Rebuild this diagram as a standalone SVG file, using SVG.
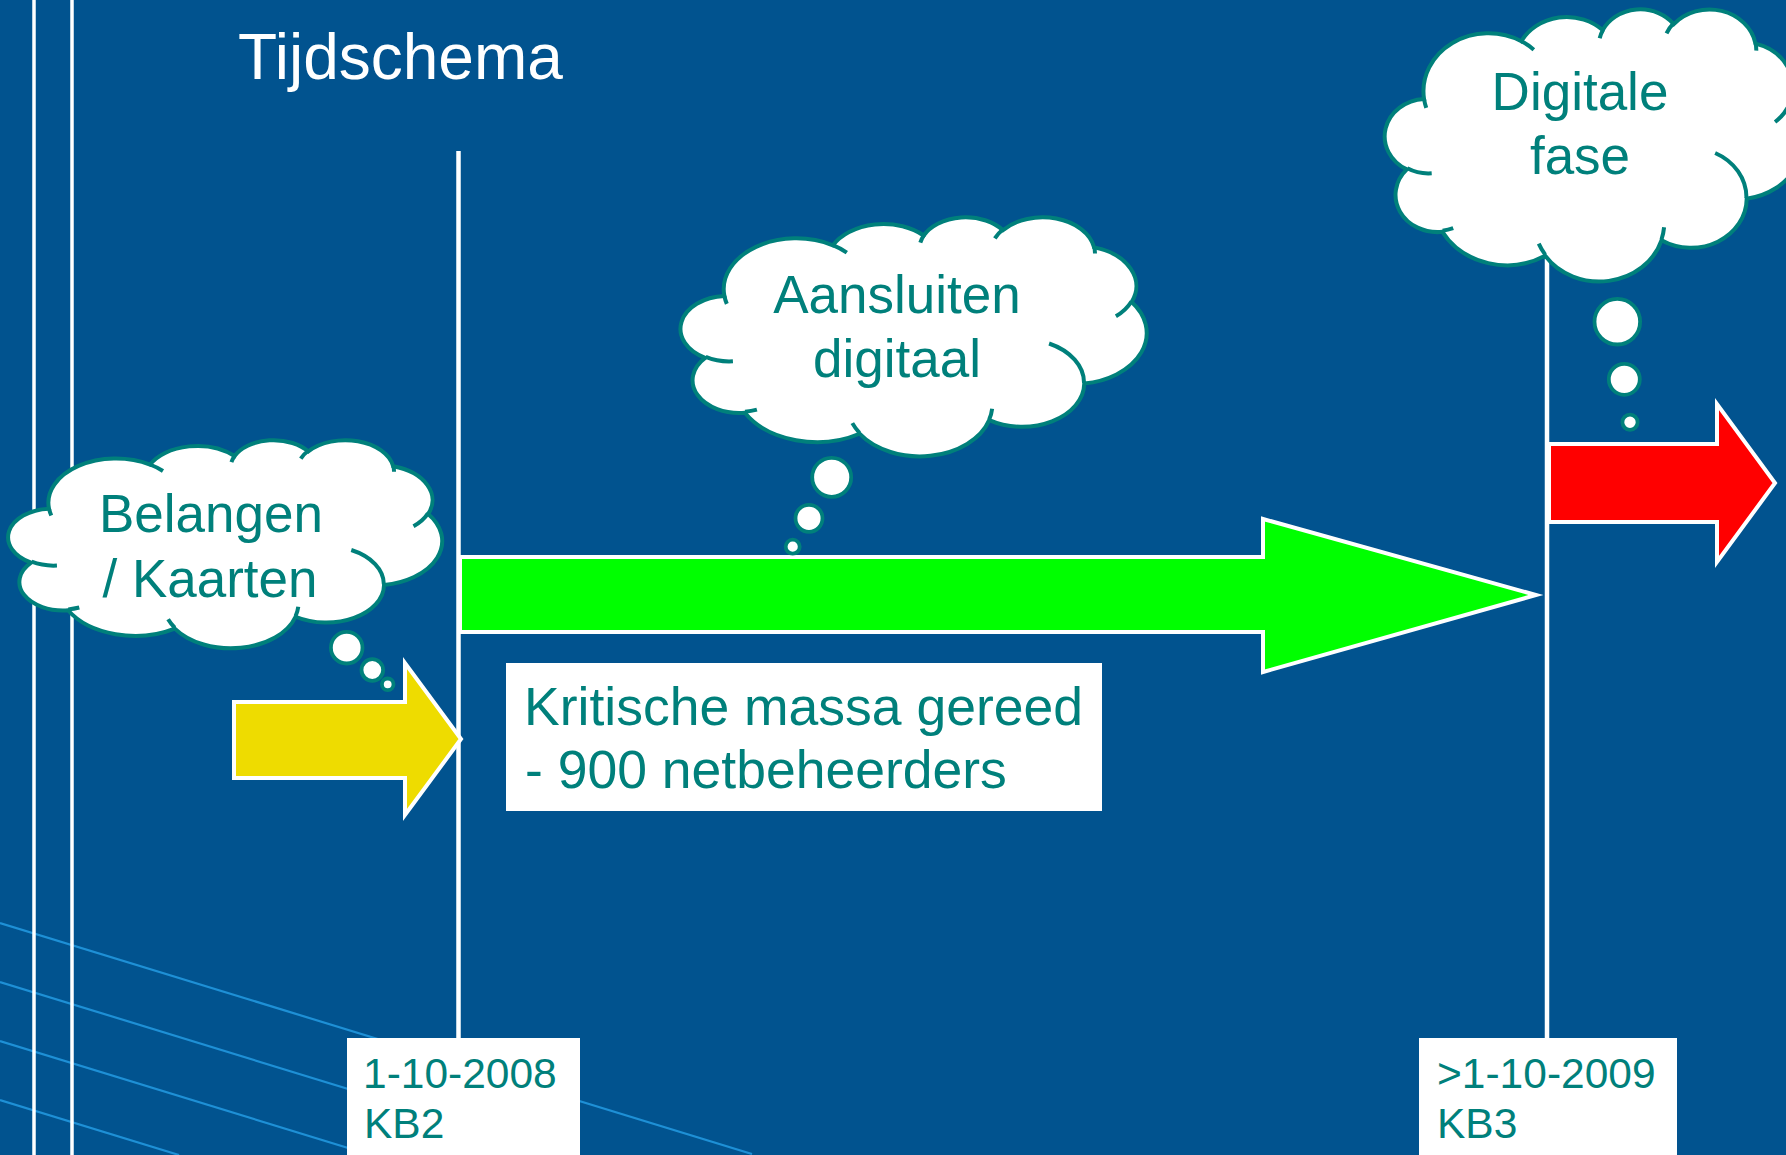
<svg xmlns="http://www.w3.org/2000/svg" xmlns:xlink="http://www.w3.org/1999/xlink" width="1786" height="1155" viewBox="0 0 1786 1155">
  <style>
    .bg { fill: #01538F; }
    .frame { stroke: #FFFFFF; stroke-width: 3.5; fill: none; }
    .diag { stroke: #1E90D6; stroke-width: 2.2; fill: none; }
    .tline { stroke: #FFFFFF; stroke-width: 4.5; fill: none; }
    .arrow { stroke: #FFFFFF; stroke-width: 4; stroke-linejoin: miter; }
    .cloud { fill: #FFFFFF; stroke: #00807B; stroke-width: 4; vector-effect: non-scaling-stroke; }
    .cloudin { fill: none; stroke: #00807B; stroke-width: 4; vector-effect: non-scaling-stroke; }
    .bubble { fill: #FFFFFF; stroke: #00807B; stroke-width: 3.8; }
    .box { fill: #FFFFFF; }
    .title { font-family: "Liberation Sans", Arial, sans-serif; font-size: 64px; fill: #FFFFFF; }
    .ctext { font-family: "Liberation Sans", Arial, sans-serif; font-size: 53px; fill: #00807B; text-anchor: middle; }
    .btext { font-family: "Liberation Sans", Arial, sans-serif; font-size: 53.5px; fill: #00807B; }
    .dtext { font-family: "Liberation Sans", Arial, sans-serif; font-size: 42.5px; fill: #00807B; }
  </style>
  <defs>
    <path id="cloudShape" class="cloud" d="M3900 14370 A6753 9190 0 0 1 14005 5202 A5333 7267 0 0 1 22455 3432 A4365 5945 0 0 1 29832 2480 A4857 6595 0 0 1 38317 5575 A5333 7273 0 0 1 41817 15459 A6775 9220 0 0 1 37404 30203 A5785 7867 0 0 1 28555 36813 A6752 9215 0 0 1 16480 39266 A7720 10543 0 0 1 5805 35474 A4360 5918 0 0 1 2114 25552 A4345 5945 0 0 1 3900 14370 Z"/>
    <path id="cloudInner" class="cloudin" d="M4693 26177 A4345 5945 0 0 1 2160 25380 M6928 34899 A4360 5918 0 0 1 5820 35281 M16478 39090 A6752 9215 0 0 1 15810 37348 M28827 34751 A6752 9215 0 0 1 28560 36660 M34129 22954 A5785 7867 0 0 1 37381 30090 M41798 15354 A5333 7273 0 0 1 40350 18030 M38324 5426 A4857 6595 0 0 1 38401 6690 M29078 3952 A4857 6595 0 0 1 29820 2340 M22141 4720 A4365 5945 0 0 1 22500 3331 M14000 5192 A6753 9190 0 0 1 15299 6539 M4127 15789 A6753 9190 0 0 1 3900 14371"/>
  </defs>

  <rect class="bg" x="0" y="0" width="1786" height="1155"/>

  <g id="decoration">
    <line class="diag" x1="0" y1="923" x2="752" y2="1154"/>
    <line class="diag" x1="0" y1="982" x2="563" y2="1155"/>
    <line class="diag" x1="0" y1="1041" x2="371" y2="1155"/>
    <line class="diag" x1="0" y1="1100" x2="179" y2="1155"/>
    <line class="frame" x1="34" y1="0" x2="34" y2="1155"/>
    <line class="frame" x1="72" y1="0" x2="72" y2="1155"/>
  </g>

  <g id="title">
    <text class="title" x="238" y="79">Tijdschema</text>
  </g>

  <g id="connectors">
    <line class="tline" x1="458.5" y1="151" x2="458.5" y2="1040"/>
    <line class="tline" x1="1547" y1="151" x2="1547" y2="1040"/>
    <polygon id="arrow-yellow" class="arrow" fill="#EEDC00" points="234,702 405,702 405,663 461,739 405,815 405,778 234,778"/>
    <polygon id="arrow-green" class="arrow" fill="#00FF00" points="460,557 1263,557 1263,519 1536,595 1263,672 1263,632 460,632"/>
    <polygon id="arrow-red" class="arrow" fill="#FF0000" points="1549,444 1717,444 1717,404 1775,483 1717,562 1717,522 1549,522"/>
  </g>

  <g id="cloud-belangen">
    <use xlink:href="#cloudShape" transform="translate(10,439.5) scale(0.01,0.0048148)"/>
    <use xlink:href="#cloudInner" transform="translate(10,439.5) scale(0.01,0.0048148)"/>
    <circle class="bubble" cx="346.7" cy="647.7" r="15.8"/>
    <circle class="bubble" cx="372.3" cy="670" r="10.8"/>
    <circle class="bubble" cx="387.7" cy="684.3" r="5.8"/>
    <text class="ctext" x="211" y="532">Belangen</text>
    <text class="ctext" x="210" y="597">/ Kaarten</text>
  </g>

  <g id="cloud-aansluiten">
    <use xlink:href="#cloudShape" transform="translate(682.5,216.5) scale(0.010741,0.0055324)"/>
    <use xlink:href="#cloudInner" transform="translate(682.5,216.5) scale(0.010741,0.0055324)"/>
    <circle class="bubble" cx="831.7" cy="477.3" r="19.5"/>
    <circle class="bubble" cx="809" cy="518.3" r="13.5"/>
    <circle class="bubble" cx="792.7" cy="546.7" r="7"/>
    <text class="ctext" x="897" y="313">Aansluiten</text>
    <text class="ctext" x="897" y="377">digitaal</text>
  </g>

  <g id="cloud-digitale">
    <use xlink:href="#cloudShape" transform="translate(1386.5,8.5) scale(0.0096296,0.0062963)"/>
    <use xlink:href="#cloudInner" transform="translate(1386.5,8.5) scale(0.0096296,0.0062963)"/>
    <circle class="bubble" cx="1617.3" cy="321.7" r="22.8"/>
    <circle class="bubble" cx="1624.3" cy="379.3" r="15.5"/>
    <circle class="bubble" cx="1630" cy="422.3" r="7.6"/>
    <text class="ctext" x="1580" y="110">Digitale</text>
    <text class="ctext" x="1580" y="174">fase</text>
  </g>

  <g id="box-kritische">
    <rect class="box" x="506" y="663" width="596" height="148"/>
    <text class="btext" x="524" y="725">Kritische massa gereed</text>
    <text class="btext" x="525" y="788">- 900 netbeheerders</text>
  </g>

  <g id="box-kb2">
    <rect class="box" x="347" y="1038" width="233" height="117"/>
    <text class="dtext" x="363" y="1088">1-10-2008</text>
    <text class="dtext" x="364" y="1138">KB2</text>
  </g>

  <g id="box-kb3">
    <rect class="box" x="1419" y="1038" width="258" height="117"/>
    <text class="dtext" x="1437" y="1088">&gt;1-10-2009</text>
    <text class="dtext" x="1437" y="1138">KB3</text>
  </g>
</svg>
